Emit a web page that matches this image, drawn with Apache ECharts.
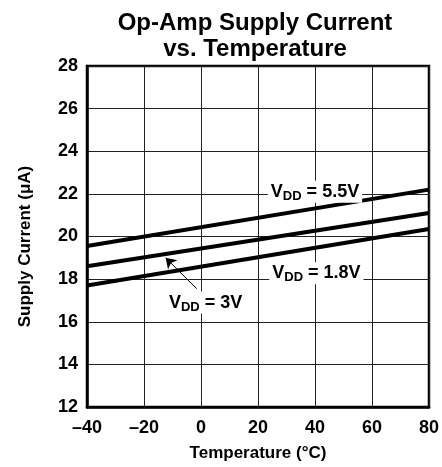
<!DOCTYPE html>
<html>
<head>
<meta charset="utf-8">
<title>Op-Amp Supply Current vs. Temperature</title>
<script src="https://cdn.jsdelivr.net/npm/echarts@6/dist/echarts.min.js"></script>
<style>
    html, body { margin: 0; padding: 0; background: #fff; }
    #chart_show { width: 442px; height: 467px; }
</style>
</head>
<body>
<div id="chart_show"></div>
<script>
// data
var temps = [-40, 80];
var vdd55 = [19.55, 22.2];
var vdd3 = [18.6, 21.1];
var vdd18 = [17.7, 20.35];

var xTicks = [-40, -20, 0, 20, 40, 60, 80];
var yTicks = [12, 14, 16, 18, 20, 22, 24, 26, 28];

var FONT = '"Liberation Sans", Arial, sans-serif';

function pairs(xs, ys) {
    var out = [];
    for (var i = 0; i < xs.length; i++) {
        out.push([xs[i], ys[i]]);
    }
    return out;
}

var labelRich = {
    v: { fontFamily: FONT, fontWeight: 'bold', fontSize: 18, color: '#000', lineHeight: 22 },
    s: { fontFamily: FONT, fontWeight: 'bold', fontSize: 13, color: '#000', lineHeight: 13, verticalAlign: 'bottom' }
};

function vddLabel(coord, volts) {
    return {
        coord: coord,
        symbol: 'rect',
        symbolSize: 0,
        label: {
            show: true,
            position: 'inside',
            formatter: '{v|V}{s|DD}{v| = ' + volts + '}',
            backgroundColor: '#fff',
            padding: [0, 3, 0, 3],
            rich: labelRich
        }
    };
}

var lineStyle = { color: '#000', width: 4 };
var gridLine = { lineStyle: { color: '#222', width: 1 } };

var chart = echarts.init(document.getElementById('chart_show'));

chart.setOption({
    animation: false,
    title: {
        text: 'Op-Amp Supply Current\nvs. Temperature',
        left: 250,
        top: 5,
        textAlign: 'center',
        textStyle: {
            fontFamily: FONT,
            fontWeight: 'bold',
            fontSize: 24,
            lineHeight: 26,
            color: '#000'
        }
    },
    grid: {
        left: 87,
        right: 3,
        top: 66,
        bottom: 57,
        show: true,
        borderColor: '#000',
        borderWidth: 2.5
    },
    xAxis: {
        type: 'value',
        min: xTicks[0],
        max: xTicks[xTicks.length - 1],
        interval: 20,
        name: 'Temperature (°C)',
        nameLocation: 'middle',
        nameGap: 38,
        nameTextStyle: { fontFamily: FONT, fontWeight: 'bold', fontSize: 17, color: '#000' },
        axisLine: { onZero: false, lineStyle: { color: '#000', width: 2.5 } },
        axisTick: { show: false },
        splitLine: gridLine,
        axisLabel: {
            fontFamily: FONT, fontWeight: 'bold', fontSize: 18, color: '#000', margin: 12,
            formatter: function (v) { return v < 0 ? '\u2013' + Math.abs(v) : String(v); }
        }
    },
    yAxis: {
        type: 'value',
        min: yTicks[0],
        max: yTicks[yTicks.length - 1],
        interval: 2,
        name: 'Supply Current (\u03bcA)',
        nameLocation: 'middle',
        nameGap: 53,
        nameTextStyle: { fontFamily: FONT, fontWeight: 'bold', fontSize: 17, color: '#000', padding: [0, 20, 0, 0] },
        axisLine: { onZero: false, lineStyle: { color: '#000', width: 2.5 } },
        axisTick: { show: false },
        splitLine: gridLine,
        axisLabel: { fontFamily: FONT, fontWeight: 'bold', fontSize: 18, color: '#000', margin: 9 }
    },
    series: [
        {
            name: 'VDD = 5.5V',
            type: 'line',
            data: pairs(temps, vdd55),
            symbol: 'none',
            lineStyle: lineStyle,
            z: 3,
            markPoint: { z: 5, data: [vddLabel([40, 22.1], '5.5V')] }
        },
        {
            name: 'VDD = 3V',
            type: 'line',
            data: pairs(temps, vdd3),
            symbol: 'none',
            lineStyle: lineStyle,
            z: 3,
            markPoint: { z: 5, data: [vddLabel([1.6, 16.9], '3V')] },
            markLine: {
                silent: true,
                symbol: ['none', 'arrow'],
                symbolSize: 10,
                label: { show: false },
                lineStyle: { color: '#000', width: 1, type: 'solid' },
                data: [[{ coord: [-1.5, 17.55] }, { coord: [-12.4, 19.0] }]]
            }
        },
        {
            name: 'VDD = 1.8V',
            type: 'line',
            data: pairs(temps, vdd18),
            symbol: 'none',
            lineStyle: lineStyle,
            z: 3,
            markPoint: { z: 5, data: [vddLabel([40.5, 18.28], '1.8V')] }
        }
    ]
});
</script>
</body>
</html>
